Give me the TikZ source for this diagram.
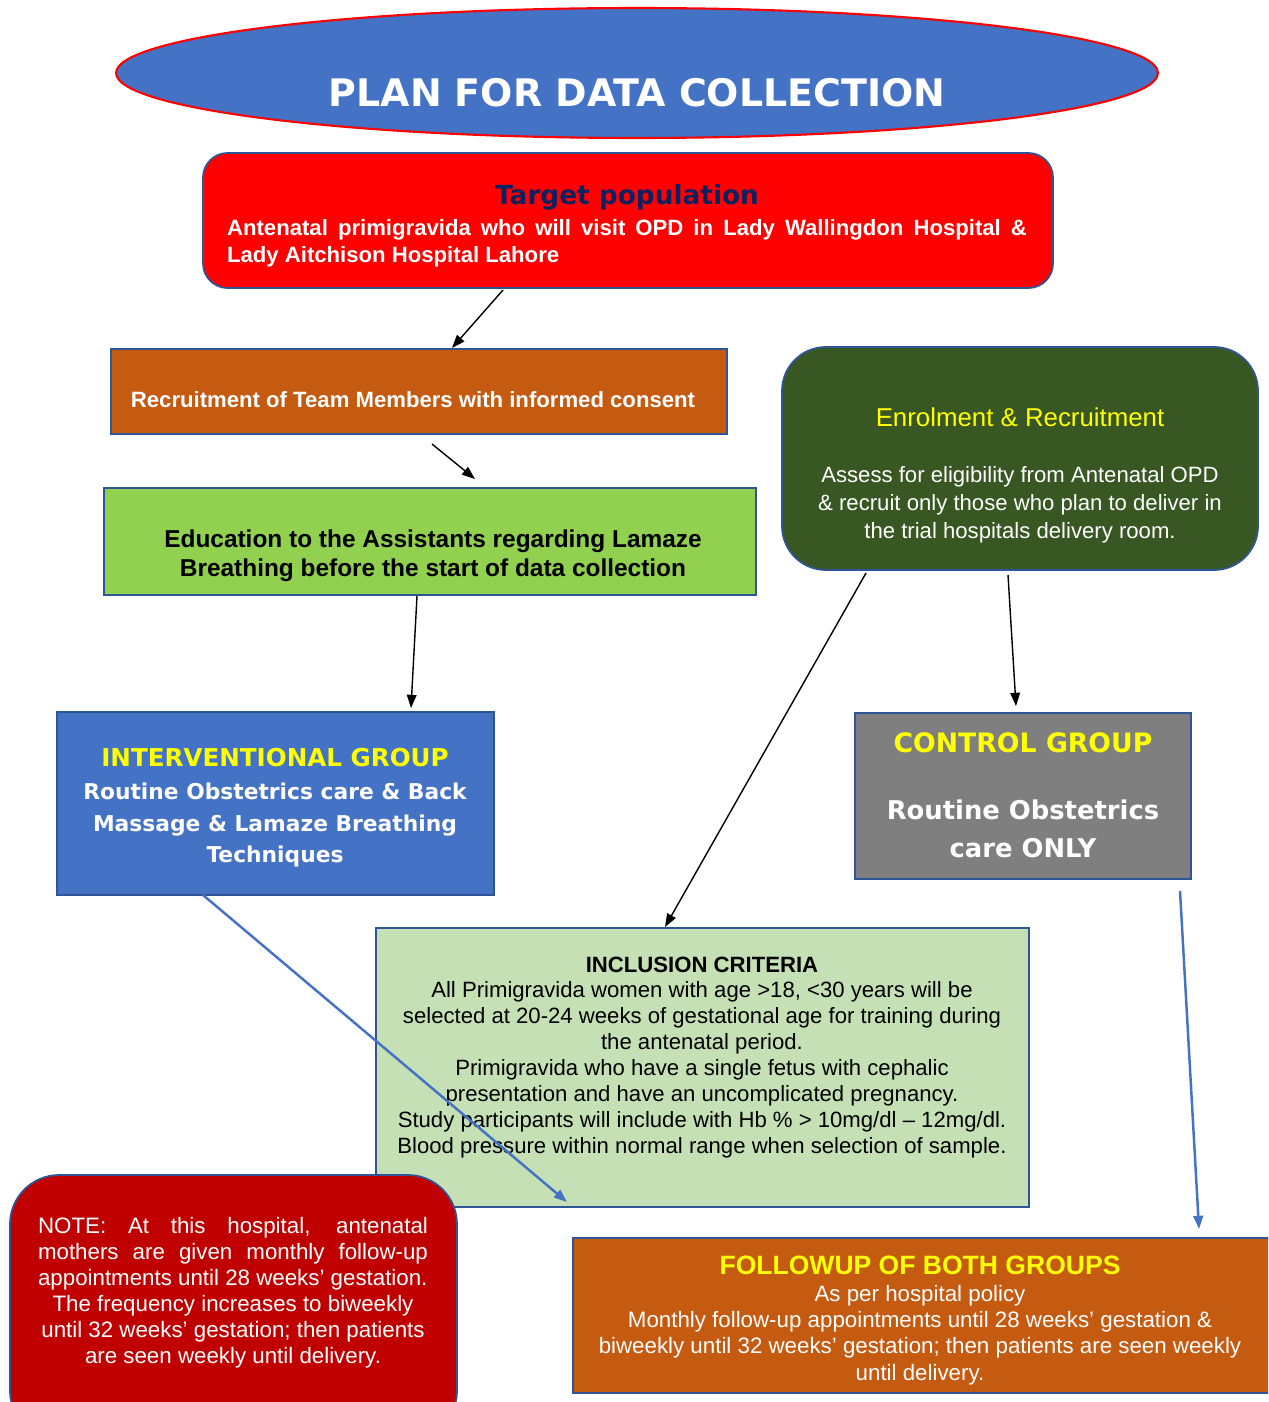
\documentclass[tikz,border=0pt]{standalone}
\usepackage{fontspec}
\setmainfont{Liberation Sans}
\newfontfamily\heavy{DejaVu Sans}
\usetikzlibrary{shapes.geometric,fit,arrows.meta}
\definecolor{blueF}{HTML}{4472C4}
\definecolor{borderB}{HTML}{2F5597}
\definecolor{redF}{HTML}{FF0000}
\definecolor{orangeF}{HTML}{C55A11}
\definecolor{greenF}{HTML}{92D050}
\definecolor{dgreenF}{HTML}{385723}
\definecolor{grayF}{HTML}{7F7F7F}
\definecolor{lgreenF}{HTML}{C5E0B4}
\definecolor{dredF}{HTML}{C00000}
\definecolor{yel}{HTML}{FFFF00}
\definecolor{navy}{HTML}{0D2060}
\newcommand\fs[2]{\fontsize{#1}{#2}\selectfont}
\tikzset{
  boxshape/.style={inner sep=0pt, draw=borderB, line width=1pt},
  txt/.style={inner sep=0pt, align=center},
  blackarrow/.style={draw=black, line width=0.8pt, -{Triangle[length=7.5pt,width=5.5pt]}},
  bluearrow/.style={draw=blueF, line width=1.4pt, -{Triangle[length=7.5pt,width=5.5pt]}}
}
\begin{document}
\begin{tikzpicture}[x=0.02cm,y=-0.02cm]
\useasboundingbox (0,0) rectangle (1268,1402);
\clip (0,0) rectangle (1268,1402);
\fill[white] (0,0) rectangle (1268,1402);

% title ellipse
\node[ellipse, draw=red, line width=1.2pt, fill=blueF, minimum width=20.84cm, minimum height=2.6cm, inner sep=0pt] (ell) at (637,73) {};
\node[txt, text=white, font=\heavy\bfseries\fs{21.6}{26}] (title) at (637,93) {PLAN FOR DATA COLLECTION};

% target population
\node[boxshape, fill=redF, rounded corners=14pt, fit={(203,153)(1053,288)}] (target) {};
\node[txt, text=navy, font=\heavy\bfseries\fs{15}{17}] (tpt) at (627,197) {Target population};
\node[txt, text=white, font=\bfseries\fs{12.6}{15.3}] (tpb) at (627,243) {\parbox{16cm}{\noindent Antenatal primigravida who will visit OPD in Lady Wallingdon Hospital \&\linebreak Lady Aitchison Hospital Lahore}};

% recruitment
\node[boxshape, fill=orangeF, fit={(111,349)(727,434)}] (recruit) {};
\node[txt, text=white, font=\bfseries\fs{12.6}{15}] (rect) at (413,400) {Recruitment of Team Members with informed consent};

% education
\node[boxshape, fill=greenF, fit={(104,488)(756,595)}] (educ) {};
\node[txt, text=black, font=\bfseries\fs{13.9}{16.4}] (edt) at (433,556) {Education to the Assistants regarding Lamaze\\Breathing before the start of data collection};

% enrolment
\node[boxshape, fill=dgreenF, rounded corners=25pt, fit={(782,347)(1258,570)}] (enrol) {};
\node[txt, text=yel, font=\fs{14.7}{17}] (ent) at (1020,417) {Enrolment \& Recruitment};
\node[txt, text=white, font=\fs{12.6}{15.9}] (enb) at (1020,505) {Assess for eligibility from Antenatal OPD\\\& recruit only those who plan to deliver in\\the trial hospitals delivery room.};

% interventional
\node[boxshape, fill=blueF, fit={(57,712)(494,895)}] (interv) {};
\node[txt, text=yel, font=\heavy\bfseries\fs{14}{17}] (intt) at (275,758) {INTERVENTIONAL GROUP};
\node[txt, text=white, font=\heavy\bfseries\fs{12.4}{17.9}] (intb) at (275,825) {Routine Obstetrics care \& Back\\Massage \& Lamaze Breathing\\Techniques};

% control
\node[boxshape, fill=grayF, fit={(855,713)(1191,879)}] (control) {};
\node[txt, text=yel, font=\heavy\bfseries\fs{15.2}{18}] (cont) at (1023,743) {CONTROL GROUP};
\node[txt, text=white, font=\heavy\bfseries\fs{14.7}{21.5}] (conb) at (1023,829) {Routine Obstetrics\\care ONLY};

% inclusion
\node[boxshape, fill=lgreenF, fit={(376,928)(1029,1207)}] (incl) {};
\node[txt, text=black, font=\bfseries\fs{12.6}{15}] (inct) at (702,965) {INCLUSION CRITERIA};
\node[txt, text=black, font=\fs{12.6}{14.75}] (incb) at (702,1070) {All Primigravida women with age >18, <30 years will be\\selected at 20-24 weeks of gestational age for training during\\the antenatal period.\\Primigravida who have a single fetus with cephalic\\presentation and have an uncomplicated pregnancy.\\Study participants will include with Hb \% > 10mg/dl – 12mg/dl.\\Blood pressure within normal range when selection of sample.};

% note
\node[boxshape, fill=dredF, rounded corners=28pt, fit={(10,1175)(457,1440)}] (note) {};
\node[txt, text=white, font=\fs{12.7}{14.75}] (notet) at (233,1293) {\parbox{7.8cm}{\noindent NOTE: At this hospital, antenatal\linebreak mothers are given monthly follow-up\linebreak appointments until 28 weeks’ gestation.\par\centering The frequency increases to biweekly\\until 32 weeks’ gestation; then patients\\are seen weekly until delivery.\par}};

% followup
\node[boxshape, fill=orangeF, fit={(573,1238)(1275,1393)}] (follow) {};
\node[txt, text=yel, font=\bfseries\fs{15.1}{18}] (folt) at (920,1265) {FOLLOWUP OF BOTH GROUPS};
\node[txt, text=white, font=\fs{12.7}{14.9}] (folb) at (920,1335) {As per hospital policy\\Monthly follow-up appointments until 28 weeks’ gestation \&\\biweekly until 32 weeks’ gestation; then patients are seen weekly\\until delivery.};

% connector endpoints
\coordinate (a1s) at (503,290); \coordinate (a1e) at (452,348);
\coordinate (a2s) at (432,444); \coordinate (a2e) at (475,479);
\coordinate (a3s) at (417,596); \coordinate (a3e) at (411,708);
\coordinate (a4s) at (866,573); \coordinate (a4e) at (665,927);
\coordinate (a5s) at (1008,575); \coordinate (a5e) at (1016,706);
\coordinate (a6s) at (203,895); \coordinate (a6e) at (567,1202);
\coordinate (a7s) at (1180,891); \coordinate (a7e) at (1199,1229);

\draw[blackarrow] (a1s) -- (a1e);
\draw[blackarrow] (a2s) -- (a2e);
\draw[blackarrow] (a3s) -- (a3e);
\draw[blackarrow] (a4s) -- (a4e);
\draw[blackarrow] (a5s) -- (a5e);
\draw[bluearrow] (a6s) -- (a6e);
\draw[bluearrow] (a7s) -- (a7e);
\end{tikzpicture}
\end{document}
